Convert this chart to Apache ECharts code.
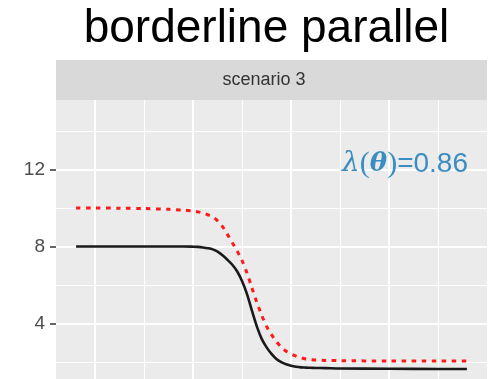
<!DOCTYPE html>
<html>
<head>
<meta charset="utf-8">
<script src="https://cdn.jsdelivr.net/npm/echarts@6/dist/echarts.min.js"></script>
<style>
html,body{margin:0;padding:0;background:#fff;}
#chart{width:493px;height:379px;}
</style>
</head>
<body>
<div id="chart"></div>
<script>
// ---- data ----
const titleText = 'borderline parallel';
const stripText = 'scenario 3';
const xs = [-0.39, 0, 0.5, 1, 1.5, 1.8, 2.0, 2.1, 2.2, 2.3, 2.4, 2.5, 2.6, 2.7, 2.8, 2.9, 3.0, 3.1, 3.2, 3.3, 3.4, 3.5, 3.6, 3.7, 3.8, 3.9, 4.0, 4.1, 4.2, 4.3, 4.4, 4.5, 4.7, 5.0, 6.0, 7.0, 7.59];
const blackValues = [8.0, 8.0, 8.0, 8.0, 8.0, 8.0, 7.99, 7.98, 7.95, 7.91, 7.85, 7.73, 7.54, 7.31, 7.05, 6.70, 6.20, 5.53, 4.67, 3.85, 3.2, 2.76, 2.42, 2.16, 1.99, 1.88, 1.8, 1.75, 1.72, 1.71, 1.70, 1.69, 1.68, 1.66, 1.65, 1.64, 1.64];
const redValues = [10.0, 10.0, 9.99, 9.97, 9.93, 9.89, 9.84, 9.8, 9.74, 9.65, 9.54, 9.33, 9.03, 8.63, 8.2, 7.76, 7.26, 6.62, 5.85, 5.1, 4.43, 3.85, 3.42, 3.06, 2.77, 2.56, 2.42, 2.31, 2.22, 2.16, 2.13, 2.1, 2.08, 2.07, 2.05, 2.05, 2.05];
const yTickLabels = [4, 8, 12];

const chart = echarts.init(document.getElementById('chart'), null, {renderer: 'canvas'});
const pair = (xv, yv) => xv.map((x, i) => [x, yv[i]]);

chart.setOption({
  animation: false,
  backgroundColor: '#ffffff',
  grid: {
    left: 56, right: 6, top: 92.5, bottom: -21.5,
    outerBoundsMode: 'none', containLabel: false,
    show: true, backgroundColor: '#EBEBEB', borderWidth: 0
  },
  xAxis: [
    {
      type: 'value', min: -0.8, max: 8, minInterval: 2, maxInterval: 2, splitNumber: 4,
      axisLine: {show: false, onZero: false}, axisTick: {show: false}, axisLabel: {show: false},
      splitLine: {show: true, showMinLine: false, showMaxLine: false, lineStyle: {color: '#ffffff', width: 2}},
      z: 1
    },
    {
      type: 'value', min: -0.8, max: 8, minInterval: 1, maxInterval: 1, splitNumber: 8,
      axisLine: {show: false, onZero: false}, axisTick: {show: false}, axisLabel: {show: false},
      splitLine: {show: true, showMinLine: false, showMaxLine: false, lineStyle: {color: '#ffffff', width: 1}},
      z: 0
    }
  ],
  yAxis: {
    type: 'value', min: 0, max: 16, interval: 4,
    axisLine: {show: false, onZero: false},
    axisTick: {show: true, length: 6, customValues: yTickLabels, lineStyle: {color: '#333333', width: 1.5}},
    axisLabel: {show: true, customValues: yTickLabels, margin: 11, color: '#4D4D4D', fontSize: 19, fontFamily: 'Liberation Sans'},
    splitLine: {show: true, lineStyle: {color: '#ffffff', width: 2}},
    minorTick: {show: false, splitNumber: 2},
    minorSplitLine: {show: true, lineStyle: {color: '#ffffff', width: 1}}
  },
  series: [
    {
      type: 'line', xAxisIndex: 0, data: pair(xs, redValues), showSymbol: false,
      smooth: 0.3,
      lineStyle: {color: '#FF1A1A', width: 3, type: [4.5, 5.5]}, z: 3
    },
    {
      type: 'line', xAxisIndex: 0, data: pair(xs, blackValues), showSymbol: false,
      smooth: 0.3,
      lineStyle: {color: '#1A1A1A', width: 2.6}, z: 4
    }
  ],
  graphic: [
    {type: 'rect', shape: {x: 56, y: 60, width: 431, height: 40}, style: {fill: '#D9D9D9'}, z: 100},
    {type: 'text', x: 264, y: 80, z: 101,
      style: {text: stripText, fill: '#333333', font: '18px "Liberation Sans"', textAlign: 'center', textVerticalAlign: 'middle'}},
    {type: 'text', x: 266.5, y: 29.5, z: 101,
      style: {text: titleText, fill: '#000000', font: '46px "Liberation Sans"', textAlign: 'center', textVerticalAlign: 'middle'}},
    {type: 'text', x: 468, y: 164, z: 101,
      style: {
        text: '{a|λ}{p|(}{b|θ}{p|)}{c|=0.86}',
        textAlign: 'right', textVerticalAlign: 'middle',
        rich: {
          a: {fill: '#3A8DC1', fontFamily: 'DejaVu Serif', fontStyle: 'italic', fontSize: 28},
          p: {fill: '#3A8DC1', fontFamily: 'Liberation Serif', fontSize: 30},
          b: {fill: '#3A8DC1', fontFamily: 'DejaVu Serif', fontStyle: 'italic', fontWeight: 'bold', fontSize: 26},
          c: {fill: '#3A8DC1', fontFamily: 'Liberation Sans', fontSize: 28}
        }
      }}
  ]
});
</script>
</body>
</html>
